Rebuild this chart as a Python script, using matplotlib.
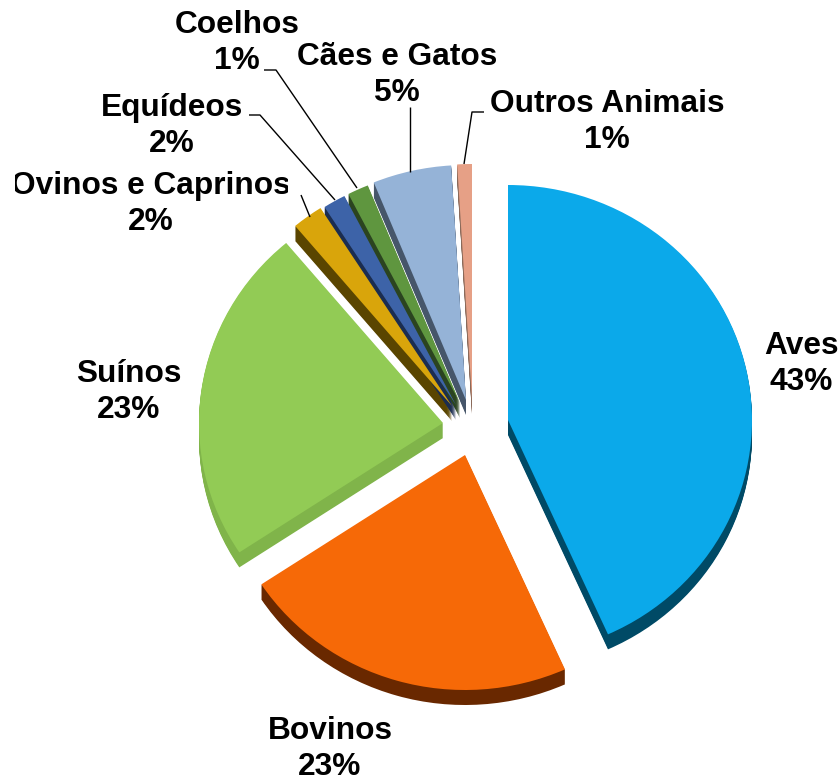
import matplotlib
matplotlib.use('Agg')
import matplotlib.pyplot as plt
from matplotlib.patches import Rectangle

#-----------------------------------------------------------------------------#
#Chart data.
#-----------------------------------------------------------------------------#
names=['Aves','Bovinos','Suínos','Ovinos e Caprinos','Equídeos','Coelhos','Cães e Gatos','Outros Animais']
pct_labels=[43,23,23,2,2,1,5,1] #Printed percentages.
shares=[43.28,22.44,23.17,2.05,1.50,1.39,5.20,0.97] #Slice sizes as drawn.
top_colors=['#0BA9EA','#F66907','#92CB55','#D9A50B','#3D63A8','#5F963F','#95B3D7','#E6A086']
side_colors=['#004A66','#692800','#80B44A','#5A4500','#1B2D50','#2B4420','#46566A','#8A6A5A']

#-----------------------------------------------------------------------------#
#Layout, in picture pixels (y goes down).
#-----------------------------------------------------------------------------#
W,H=840,782
R=244 #Horizontal pie radius
yscale=244/235 #The pie is slightly squashed vertically
depth=15 #Thickness of the 3D edge
apex=[(508,420),(465,455),(443,423),(452,406),(456,405),(460,403),(466,400),(472,399)]
label_pos=[(801,364),(330,749),(129,392),(151,204),(172,126),(237,43),(397,75),(607,122)]
leaders=[[(301,195),(310,217)],
         [(249,115),(260,115),(335,200)],
         [(264,70),(276,70),(357,188)],
         [(410,107),(410,172)],
         [(484,112),(472,112),(464,164)]]

fig=plt.figure(figsize=(W/100,H/100),dpi=100)
ax=fig.add_axes([0,0,1,1])

def draw_pie(colors,shift,zbase):
    wedges,_=ax.pie(shares,colors=colors,startangle=90,counterclock=False,radius=R)
    for i,w in enumerate(wedges):
        w.set_center((apex[i][0],(H-apex[i][1]-shift)*yscale))
        w.set_zorder(zbase+i)

#Edge first (stack of dark copies), then the top faces over all of it.
for d in range(depth,0,-1):
    draw_pie(side_colors,d,1)
draw_pie(top_colors,0,20)
ax.set_aspect('auto')
ax.set_xlim(0,W)
ax.set_ylim(0,H*yscale)
ax.axis('off')

#-----------------------------------------------------------------------------#
#Labels and leader lines on a plain pixel overlay.
#-----------------------------------------------------------------------------#
ov=fig.add_axes([0,0,1,1])
ov.set_xlim(0,W)
ov.set_ylim(H,0)
ov.axis('off')
ov.patch.set_visible(False)
for line in leaders:
    ov.plot([p[0] for p in line],[p[1] for p in line],color='black',lw=1.0,solid_capstyle='butt')
for i,name in enumerate(names):
    t=ov.text(label_pos[i][0],label_pos[i][1],name+'\n'+str(pct_labels[i])+'%',
              family='Liberation Sans',weight='bold',fontsize=22.8,color='black',
              ha='center',va='center',multialignment='center',linespacing=1.22)
    if name=='Ovinos e Caprinos': #The original text box cuts this label at both ends.
        t.set_clip_path(Rectangle((15,160),273,90,transform=ov.transData))
        t.set_clip_on(True)

plt.savefig('out.png',dpi=100)
